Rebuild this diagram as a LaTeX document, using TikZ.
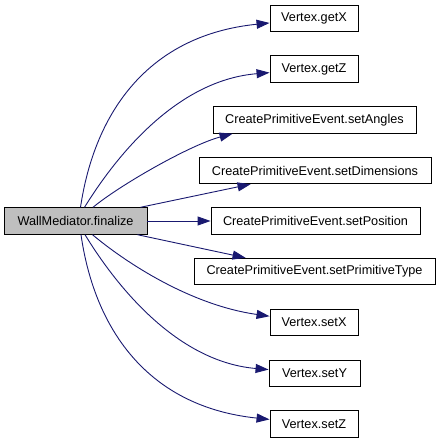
\documentclass[tikz,border=0pt]{standalone}
\usepackage{fontspec}
\setmainfont{Liberation Sans}
\usetikzlibrary{arrows.meta}

\definecolor{edgeblue}{RGB}{25,25,112}
\definecolor{curgray}{RGB}{191,191,191}

\tikzset{
  fn/.style={draw=black, line width=0.9pt, fill=white, minimum height=26.5,
             inner sep=0pt, font=\fontsize{12.7}{15}\selectfont},
  cur/.style={fn, fill=curgray},
  call/.style={draw=edgeblue, line width=0.9pt, -{Triangle[length=13pt,width=9pt]}}
}

\begin{document}
\begin{tikzpicture}[x=1pt, y=-1pt]
    \useasboundingbox (0,0) rectangle (440,443);

    % caller
    \node[cur, minimum width=143] (fin) at (75.5,221) {WallMediator.finalize};

    % callees
    \node[fn, minimum width=88]  (getX)  at (314,18.5)   {Vertex.getX};
    \node[fn, minimum width=88]  (getZ)  at (314,69)     {Vertex.getZ};
    \node[fn, minimum width=203] (angles) at (314.5,120) {CreatePrimitiveEvent.setAngles};
    \node[fn, minimum width=232] (dims)  at (315,170.5)  {CreatePrimitiveEvent.setDimensions};
    \node[fn, minimum width=209] (pos)   at (315.5,221)  {CreatePrimitiveEvent.setPosition};
    \node[fn, minimum width=241] (ptype) at (314.5,271.5) {CreatePrimitiveEvent.setPrimitiveType};
    \node[fn, minimum width=88]  (setX)  at (314,322.5)  {Vertex.setX};
    \node[fn, minimum width=91]  (setY)  at (314.5,373.5) {Vertex.setY};
    \node[fn, minimum width=88]  (setZ)  at (314,424)    {Vertex.setZ};

    % calls
    \draw[call] ([xshift=5]fin.north) .. controls (95,110) and (150,35) .. (getX);
    \draw[call] ([xshift=9]fin.north) .. controls (120,150) and (180,80) .. (getZ);
    \draw[call] ([xshift=17.5]fin.north) .. controls (120,185) and (190,145) .. ([xshift=20]angles.south west);
    \draw[call] ([xshift=-7]fin.north east) -- ([xshift=52]dims.south west);
    \draw[call] (fin) -- (pos);
    \draw[call] ([xshift=-10]fin.south east) -- ([xshift=52]ptype.north west);
    \draw[call] ([xshift=17]fin.south) .. controls (125,262) and (190,305) .. (setX);
    \draw[call] ([xshift=9.5]fin.south) .. controls (120,292) and (180,362) .. (setY);
    \draw[call] ([xshift=5.5]fin.south) .. controls (95,332) and (150,407) .. (setZ);
\end{tikzpicture}
\end{document}
